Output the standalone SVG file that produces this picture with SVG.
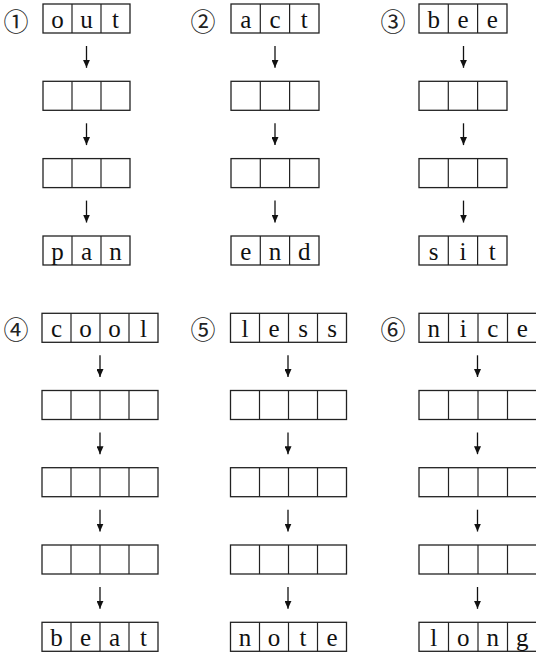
<svg xmlns="http://www.w3.org/2000/svg" width="536" height="654" viewBox="0 0 536 654">
<style>
.box{fill:none;stroke:#222;stroke-width:1.3}
.div{stroke:#222;stroke-width:1.2}
.ch{font-family:"Liberation Serif","DejaVu Serif",serif;font-size:25px;fill:#111;text-anchor:middle}
.num{font-family:"Noto Sans CJK JP","DejaVu Sans",sans-serif;font-size:25px;fill:#222;text-anchor:middle;dominant-baseline:central}
.arr{stroke:#111;stroke-width:1.3;fill:none;marker-end:url(#ah)}
</style>
<defs>
<marker id="ah" markerUnits="userSpaceOnUse" markerWidth="8" markerHeight="7" refX="8" refY="3.5" orient="auto">
<path d="M0,0 L8,3.5 L0,7 z" fill="#111"/>
</marker>
</defs>
<rect width="536" height="654" fill="#fff"/>

<!-- Puzzle 1 -->
<g id="p1-label"><text class="num" x="16" y="20">①</text></g>
<g id="p1-b1"><rect class="box" x="43" y="4" width="87" height="29"/><line class="div" x1="72" y1="4" x2="72" y2="33"/><line class="div" x1="101" y1="4" x2="101" y2="33"/>
<text class="ch" x="57.5" y="28">o</text><text class="ch" x="86.5" y="28">u</text><text class="ch" x="115.5" y="28">t</text></g>
<g id="p1-b2"><rect class="box" x="43" y="81.3" width="87" height="29"/><line class="div" x1="72" y1="81.3" x2="72" y2="110.3"/><line class="div" x1="101" y1="81.3" x2="101" y2="110.3"/></g>
<g id="p1-b3"><rect class="box" x="43" y="158.6" width="87" height="29"/><line class="div" x1="72" y1="158.6" x2="72" y2="187.6"/><line class="div" x1="101" y1="158.6" x2="101" y2="187.6"/></g>
<g id="p1-b4"><rect class="box" x="43" y="236" width="87" height="29"/><line class="div" x1="72" y1="236" x2="72" y2="265"/><line class="div" x1="101" y1="236" x2="101" y2="265"/>
<text class="ch" x="57.5" y="260">p</text><text class="ch" x="86.5" y="260">a</text><text class="ch" x="115.5" y="260">n</text></g>

<!-- Puzzle 2 -->
<g id="p2-label"><text class="num" x="203" y="20">②</text></g>
<g id="p2-b1"><rect class="box" x="231" y="4" width="88" height="29"/><line class="div" x1="260.3" y1="4" x2="260.3" y2="33"/><line class="div" x1="289.6" y1="4" x2="289.6" y2="33"/>
<text class="ch" x="245.7" y="28">a</text><text class="ch" x="275" y="28">c</text><text class="ch" x="304.3" y="28">t</text></g>
<g id="p2-b2"><rect class="box" x="231" y="81.3" width="88" height="29"/><line class="div" x1="260.3" y1="81.3" x2="260.3" y2="110.3"/><line class="div" x1="289.6" y1="81.3" x2="289.6" y2="110.3"/></g>
<g id="p2-b3"><rect class="box" x="231" y="158.6" width="88" height="29"/><line class="div" x1="260.3" y1="158.6" x2="260.3" y2="187.6"/><line class="div" x1="289.6" y1="158.6" x2="289.6" y2="187.6"/></g>
<g id="p2-b4"><rect class="box" x="231" y="236" width="88" height="29"/><line class="div" x1="260.3" y1="236" x2="260.3" y2="265"/><line class="div" x1="289.6" y1="236" x2="289.6" y2="265"/>
<text class="ch" x="245.7" y="260">e</text><text class="ch" x="275" y="260">n</text><text class="ch" x="304.3" y="260">d</text></g>

<!-- Puzzle 3 -->
<g id="p3-label"><text class="num" x="393" y="20">③</text></g>
<g id="p3-b1"><rect class="box" x="419" y="4" width="88" height="29"/><line class="div" x1="448.3" y1="4" x2="448.3" y2="33"/><line class="div" x1="477.6" y1="4" x2="477.6" y2="33"/>
<text class="ch" x="433.7" y="28">b</text><text class="ch" x="463" y="28">e</text><text class="ch" x="492.3" y="28">e</text></g>
<g id="p3-b2"><rect class="box" x="419" y="81.3" width="88" height="29"/><line class="div" x1="448.3" y1="81.3" x2="448.3" y2="110.3"/><line class="div" x1="477.6" y1="81.3" x2="477.6" y2="110.3"/></g>
<g id="p3-b3"><rect class="box" x="419" y="158.6" width="88" height="29"/><line class="div" x1="448.3" y1="158.6" x2="448.3" y2="187.6"/><line class="div" x1="477.6" y1="158.6" x2="477.6" y2="187.6"/></g>
<g id="p3-b4"><rect class="box" x="419" y="236" width="88" height="29"/><line class="div" x1="448.3" y1="236" x2="448.3" y2="265"/><line class="div" x1="477.6" y1="236" x2="477.6" y2="265"/>
<text class="ch" x="433.7" y="260">s</text><text class="ch" x="463" y="260">i</text><text class="ch" x="492.3" y="260">t</text></g>

<!-- Puzzle 4 -->
<g id="p4-label"><text class="num" x="16" y="328">④</text></g>
<g id="p4-b1"><rect class="box" x="42" y="313.3" width="116" height="29"/><line class="div" x1="71" y1="313.3" x2="71" y2="342.3"/><line class="div" x1="100" y1="313.3" x2="100" y2="342.3"/><line class="div" x1="129" y1="313.3" x2="129" y2="342.3"/>
<text class="ch" x="56.5" y="337.3">c</text><text class="ch" x="85.5" y="337.3">o</text><text class="ch" x="114.5" y="337.3">o</text><text class="ch" x="143.5" y="337.3">l</text></g>
<g id="p4-b2"><rect class="box" x="42" y="390.5" width="116" height="29"/><line class="div" x1="71" y1="390.5" x2="71" y2="419.5"/><line class="div" x1="100" y1="390.5" x2="100" y2="419.5"/><line class="div" x1="129" y1="390.5" x2="129" y2="419.5"/></g>
<g id="p4-b3"><rect class="box" x="42" y="467.7" width="116" height="29"/><line class="div" x1="71" y1="467.7" x2="71" y2="496.7"/><line class="div" x1="100" y1="467.7" x2="100" y2="496.7"/><line class="div" x1="129" y1="467.7" x2="129" y2="496.7"/></g>
<g id="p4-b4"><rect class="box" x="42" y="545" width="116" height="29"/><line class="div" x1="71" y1="545" x2="71" y2="574"/><line class="div" x1="100" y1="545" x2="100" y2="574"/><line class="div" x1="129" y1="545" x2="129" y2="574"/></g>
<g id="p4-b5"><rect class="box" x="42" y="622.3" width="116" height="29"/><line class="div" x1="71" y1="622.3" x2="71" y2="651.3"/><line class="div" x1="100" y1="622.3" x2="100" y2="651.3"/><line class="div" x1="129" y1="622.3" x2="129" y2="651.3"/>
<text class="ch" x="56.5" y="646.3">b</text><text class="ch" x="85.5" y="646.3">e</text><text class="ch" x="114.5" y="646.3">a</text><text class="ch" x="143.5" y="646.3">t</text></g>

<!-- Puzzle 5 -->
<g id="p5-label"><text class="num" x="203" y="328">⑤</text></g>
<g id="p5-b1"><rect class="box" x="230.5" y="313.3" width="116" height="29"/><line class="div" x1="259.5" y1="313.3" x2="259.5" y2="342.3"/><line class="div" x1="288.5" y1="313.3" x2="288.5" y2="342.3"/><line class="div" x1="317.5" y1="313.3" x2="317.5" y2="342.3"/>
<text class="ch" x="245" y="337.3">l</text><text class="ch" x="274" y="337.3">e</text><text class="ch" x="303" y="337.3">s</text><text class="ch" x="332" y="337.3">s</text></g>
<g id="p5-b2"><rect class="box" x="230.5" y="390.5" width="116" height="29"/><line class="div" x1="259.5" y1="390.5" x2="259.5" y2="419.5"/><line class="div" x1="288.5" y1="390.5" x2="288.5" y2="419.5"/><line class="div" x1="317.5" y1="390.5" x2="317.5" y2="419.5"/></g>
<g id="p5-b3"><rect class="box" x="230.5" y="467.7" width="116" height="29"/><line class="div" x1="259.5" y1="467.7" x2="259.5" y2="496.7"/><line class="div" x1="288.5" y1="467.7" x2="288.5" y2="496.7"/><line class="div" x1="317.5" y1="467.7" x2="317.5" y2="496.7"/></g>
<g id="p5-b4"><rect class="box" x="230.5" y="545" width="116" height="29"/><line class="div" x1="259.5" y1="545" x2="259.5" y2="574"/><line class="div" x1="288.5" y1="545" x2="288.5" y2="574"/><line class="div" x1="317.5" y1="545" x2="317.5" y2="574"/></g>
<g id="p5-b5"><rect class="box" x="230.5" y="622.3" width="116" height="29"/><line class="div" x1="259.5" y1="622.3" x2="259.5" y2="651.3"/><line class="div" x1="288.5" y1="622.3" x2="288.5" y2="651.3"/><line class="div" x1="317.5" y1="622.3" x2="317.5" y2="651.3"/>
<text class="ch" x="245" y="646.3">n</text><text class="ch" x="274" y="646.3">o</text><text class="ch" x="303" y="646.3">t</text><text class="ch" x="332" y="646.3">e</text></g>

<!-- Puzzle 6 -->
<g id="p6-label"><text class="num" x="393" y="328">⑥</text></g>
<g id="p6-b1"><rect class="box" x="419" y="313.3" width="118" height="29"/><line class="div" x1="448.5" y1="313.3" x2="448.5" y2="342.3"/><line class="div" x1="478" y1="313.3" x2="478" y2="342.3"/><line class="div" x1="507.5" y1="313.3" x2="507.5" y2="342.3"/>
<text class="ch" x="433.7" y="337.3">n</text><text class="ch" x="463.2" y="337.3">i</text><text class="ch" x="492.7" y="337.3">c</text><text class="ch" x="522.2" y="337.3">e</text></g>
<g id="p6-b2"><rect class="box" x="419" y="390.5" width="118" height="29"/><line class="div" x1="448.5" y1="390.5" x2="448.5" y2="419.5"/><line class="div" x1="478" y1="390.5" x2="478" y2="419.5"/><line class="div" x1="507.5" y1="390.5" x2="507.5" y2="419.5"/></g>
<g id="p6-b3"><rect class="box" x="419" y="467.7" width="118" height="29"/><line class="div" x1="448.5" y1="467.7" x2="448.5" y2="496.7"/><line class="div" x1="478" y1="467.7" x2="478" y2="496.7"/><line class="div" x1="507.5" y1="467.7" x2="507.5" y2="496.7"/></g>
<g id="p6-b4"><rect class="box" x="419" y="545" width="118" height="29"/><line class="div" x1="448.5" y1="545" x2="448.5" y2="574"/><line class="div" x1="478" y1="545" x2="478" y2="574"/><line class="div" x1="507.5" y1="545" x2="507.5" y2="574"/></g>
<g id="p6-b5"><rect class="box" x="419" y="622.3" width="118" height="29"/><line class="div" x1="448.5" y1="622.3" x2="448.5" y2="651.3"/><line class="div" x1="478" y1="622.3" x2="478" y2="651.3"/><line class="div" x1="507.5" y1="622.3" x2="507.5" y2="651.3"/>
<text class="ch" x="433.7" y="646.3">l</text><text class="ch" x="463.2" y="646.3">o</text><text class="ch" x="492.7" y="646.3">n</text><text class="ch" x="522.2" y="646.3">g</text></g>

<g id="connectors">
<line class="arr" x1="86.5" y1="46" x2="86.5" y2="67.8"/>
<line class="arr" x1="86.5" y1="123.3" x2="86.5" y2="145.1"/>
<line class="arr" x1="86.5" y1="200.6" x2="86.5" y2="222.5"/>
<line class="arr" x1="275" y1="46" x2="275" y2="67.8"/>
<line class="arr" x1="275" y1="123.3" x2="275" y2="145.1"/>
<line class="arr" x1="275" y1="200.6" x2="275" y2="222.5"/>
<line class="arr" x1="463.5" y1="46" x2="463.5" y2="67.8"/>
<line class="arr" x1="463.5" y1="123.3" x2="463.5" y2="145.1"/>
<line class="arr" x1="463.5" y1="200.6" x2="463.5" y2="222.5"/>
<line class="arr" x1="100" y1="355.3" x2="100" y2="377"/>
<line class="arr" x1="100" y1="432.5" x2="100" y2="454.2"/>
<line class="arr" x1="100" y1="509.7" x2="100" y2="531.5"/>
<line class="arr" x1="100" y1="587" x2="100" y2="608.8"/>
<line class="arr" x1="288" y1="355.3" x2="288" y2="377"/>
<line class="arr" x1="288" y1="432.5" x2="288" y2="454.2"/>
<line class="arr" x1="288" y1="509.7" x2="288" y2="531.5"/>
<line class="arr" x1="288" y1="587" x2="288" y2="608.8"/>
<line class="arr" x1="477.5" y1="355.3" x2="477.5" y2="377"/>
<line class="arr" x1="477.5" y1="432.5" x2="477.5" y2="454.2"/>
<line class="arr" x1="477.5" y1="509.7" x2="477.5" y2="531.5"/>
<line class="arr" x1="477.5" y1="587" x2="477.5" y2="608.8"/>
</g>
</svg>
